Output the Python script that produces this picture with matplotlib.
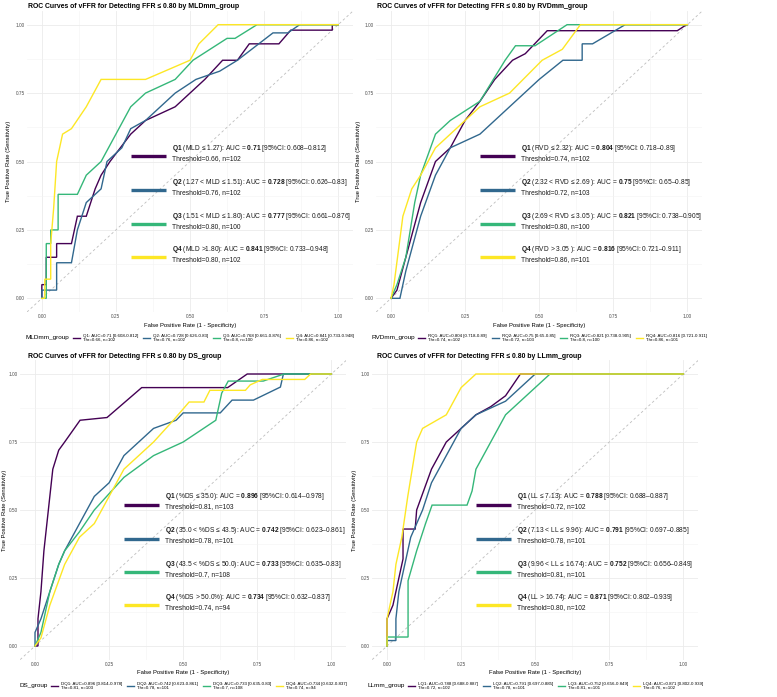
import matplotlib
matplotlib.use("Agg")
import matplotlib.pyplot as plt
from matplotlib.lines import Line2D
import numpy as np

plt.rcParams['font.family'] = ['Liberation Sans', 'DejaVu Sans']
plt.rcParams['mathtext.fontset'] = 'custom'
plt.rcParams['mathtext.rm'] = 'Liberation Sans'
plt.rcParams['mathtext.bf'] = 'Liberation Sans:bold'

COLORS = ['#440154', '#31688E', '#35B779', '#FDE725']

# ---------------- data ----------------
# Panel 1: MLDmm_group
mld_q1_fpr = [0, 0, 0.015, 0.015, 0.05, 0.05, 0.1, 0.12, 0.15, 0.18, 0.2, 0.23, 0.3, 0.35, 0.45, 0.5, 0.55, 0.61, 0.66, 0.70, 0.80, 0.84, 0.98, 0.98, 1]
mld_q1_tpr = [0, 0.05, 0.05, 0.15, 0.15, 0.2, 0.2, 0.3, 0.3, 0.4, 0.45, 0.5, 0.6, 0.65, 0.7, 0.75, 0.8, 0.87, 0.87, 0.93, 0.93, 0.98, 0.98, 1.0, 1]
mld_q2_fpr = [0, 0, 0.05, 0.05, 0.1, 0.12, 0.15, 0.2, 0.22, 0.27, 0.3, 0.35, 0.4, 0.45, 0.52, 0.6, 0.66, 0.78, 0.83, 0.87, 1]
mld_q2_tpr = [0, 0.03, 0.03, 0.13, 0.13, 0.25, 0.35, 0.4, 0.5, 0.55, 0.62, 0.65, 0.7, 0.75, 0.8, 0.83, 0.87, 0.97, 0.97, 1.0, 1]
mld_q3_fpr = [0, 0.015, 0.015, 0.03, 0.03, 0.055, 0.055, 0.12, 0.15, 0.2, 0.25, 0.3, 0.35, 0.45, 0.51, 0.625, 0.652, 0.726, 1]
mld_q3_tpr = [0, 0, 0.2, 0.2, 0.25, 0.25, 0.38, 0.38, 0.45, 0.5, 0.6, 0.7, 0.75, 0.8, 0.87, 0.95, 0.95, 1.0, 1]
mld_q4_fpr = [0, 0.01, 0.01, 0.03, 0.03, 0.04, 0.05, 0.07, 0.1, 0.15, 0.2, 0.35, 0.5, 0.53, 0.595, 1]
mld_q4_tpr = [0, 0, 0.07, 0.07, 0.2, 0.33, 0.5, 0.6, 0.62, 0.7, 0.8, 0.8, 0.87, 0.93, 1.0, 1]

# Panel 2: RVDmm_group
rvd_q1_fpr = [0, 0.02, 0.05, 0.1, 0.15, 0.2, 0.25, 0.3, 0.35, 0.41, 0.453, 0.527, 0.966, 0.997, 1]
rvd_q1_tpr = [0, 0.03, 0.15, 0.35, 0.5, 0.55, 0.65, 0.72, 0.8, 0.87, 0.894, 0.978, 0.978, 1.0, 1]
rvd_q2_fpr = [0, 0.03, 0.05, 0.1, 0.15, 0.2, 0.3, 0.4, 0.5, 0.58, 0.645, 0.645, 0.68, 0.79, 1]
rvd_q2_tpr = [0, 0, 0.1, 0.3, 0.45, 0.55, 0.6, 0.7, 0.8, 0.87, 0.87, 0.93, 0.93, 1.0, 1]
rvd_q3_fpr = [0, 0.02, 0.05, 0.08, 0.1, 0.15, 0.2, 0.3, 0.385, 0.42, 0.486, 0.594, 1]
rvd_q3_tpr = [0, 0.05, 0.15, 0.35, 0.45, 0.6, 0.65, 0.72, 0.87, 0.923, 0.923, 1.0, 1]
rvd_q4_fpr = [0, 0.01, 0.04, 0.07, 0.1, 0.15, 0.2, 0.3, 0.4, 0.51, 0.578, 0.639, 1]
rvd_q4_tpr = [0, 0.05, 0.3, 0.4, 0.45, 0.55, 0.6, 0.7, 0.75, 0.87, 0.91, 1.0, 1]

# Panel 3: DS_group
ds_q1_fpr = [0, 0.01, 0.01, 0.02, 0.03, 0.05, 0.06, 0.08, 0.1, 0.152, 0.243, 0.36, 0.65, 0.716, 1]
ds_q1_tpr = [0, 0, 0.1, 0.2, 0.35, 0.55, 0.65, 0.72, 0.75, 0.83, 0.84, 0.95, 0.95, 1.0, 1]
ds_q2_fpr = [0, 0, 0.02, 0.05, 0.08, 0.1, 0.15, 0.2, 0.25, 0.3, 0.4, 0.476, 0.5, 0.625, 0.665, 0.737, 0.828, 0.838, 1]
ds_q2_tpr = [0, 0.05, 0.1, 0.2, 0.3, 0.35, 0.45, 0.55, 0.6, 0.7, 0.8, 0.83, 0.857, 0.857, 0.904, 0.904, 0.952, 1.0, 1]
ds_q3_fpr = [0, 0.02, 0.05, 0.08, 0.1, 0.15, 0.2, 0.3, 0.4, 0.5, 0.61, 0.63, 0.652, 0.77, 0.84, 1]
ds_q3_tpr = [0, 0.05, 0.2, 0.3, 0.35, 0.42, 0.5, 0.62, 0.7, 0.75, 0.83, 0.93, 0.974, 0.974, 1.0, 1]
ds_q4_fpr = [0, 0.02, 0.05, 0.1, 0.15, 0.2, 0.25, 0.3, 0.4, 0.467, 0.52, 0.57, 0.59, 0.71, 0.726, 0.767, 0.91, 0.93, 1]
ds_q4_tpr = [0, 0.03, 0.15, 0.3, 0.4, 0.45, 0.55, 0.65, 0.75, 0.83, 0.897, 0.897, 0.94, 0.94, 0.96, 0.98, 0.98, 1.0, 1]

# Panel 4: LLmm_group
ll_q1_fpr = [0, 0, 0.02, 0.03, 0.054, 0.054, 0.095, 0.1, 0.15, 0.2, 0.3, 0.35, 0.4, 0.45, 1]
ll_q1_tpr = [0, 0.1, 0.15, 0.2, 0.32, 0.43, 0.43, 0.5, 0.65, 0.75, 0.85, 0.88, 0.92, 1.0, 1]
ll_q2_fpr = [0, 0, 0.03, 0.03, 0.04, 0.06, 0.08, 0.12, 0.15, 0.2, 0.25, 0.3, 0.4, 0.5, 1]
ll_q2_tpr = [0, 0.02, 0.02, 0.1, 0.2, 0.3, 0.4, 0.5, 0.6, 0.7, 0.8, 0.85, 0.9, 1.0, 1]
ll_q3_fpr = [0, 0, 0.071, 0.071, 0.1, 0.13, 0.152, 0.27, 0.287, 0.3, 0.35, 0.4, 0.45, 0.55, 1]
ll_q3_tpr = [0, 0.033, 0.033, 0.24, 0.35, 0.45, 0.518, 0.518, 0.57, 0.65, 0.75, 0.85, 0.9, 1.0, 1]
ll_q4_fpr = [0, 0, 0.02, 0.03, 0.05, 0.07, 0.1, 0.12, 0.2, 0.25, 0.3, 1]
ll_q4_tpr = [0, 0.1, 0.2, 0.3, 0.4, 0.55, 0.75, 0.8, 0.85, 0.95, 1.0, 1]

titles = [
    "ROC Curves of vFFR for Detecting FFR \u2264 0.80 by MLDmm_group",
    "ROC Curves of vFFR for Detecting FFR \u2264 0.80 by RVDmm_group",
    "ROC Curves of vFFR for Detecting FFR \u2264 0.80 by DS_group",
    "ROC Curves of vFFR for Detecting FFR \u2264 0.80 by LLmm_group",
]
legend_titles = ["MLDmm_group", "RVDmm_group", "DS_group", "LLmm_group"]

mld_legend = ["Q1: AUC=0.71 [0.608-0.812]\nThr=0.66, n=102",
              "Q2: AUC=0.728 [0.626-0.83]\nThr=0.76, n=102",
              "Q3: AUC=0.768 [0.661-0.876]\nThr=0.8, n=100",
              "Q4: AUC=0.841 [0.733-0.948]\nThr=0.86, n=102"]
rvd_legend = ["RQ1: AUC=0.804 [0.718-0.89]\nThr=0.74, n=102",
              "RQ2: AUC=0.75 [0.65-0.85]\nThr=0.72, n=103",
              "RQ3: AUC=0.821 [0.738-0.905]\nThr=0.8, n=100",
              "RQ4: AUC=0.816 [0.721-0.911]\nThr=0.86, n=101"]
ds_legend = ["DQ1: AUC=0.896 [0.814-0.978]\nThr=0.81, n=103",
             "DQ2: AUC=0.742 [0.623-0.861]\nThr=0.78, n=101",
             "DQ3: AUC=0.733 [0.635-0.83]\nThr=0.7, n=108",
             "DQ4: AUC=0.734 [0.632-0.837]\nThr=0.74, n=94"]
ll_legend = ["LQ1: AUC=0.788 [0.688-0.887]\nThr=0.72, n=102",
             "LQ2: AUC=0.791 [0.697-0.885]\nThr=0.78, n=101",
             "LQ3: AUC=0.752 [0.656-0.849]\nThr=0.81, n=101",
             "LQ4: AUC=0.871 [0.802-0.939]\nThr=0.76, n=102"]

mld_annot = [("Q1", "(MLD \u2264 1.27): AUC = ", "0.71", " [95%CI: 0.608\u20130.812]", "Threshold=0.66, n=102"),
             ("Q2", "(1.27 < MLD \u2264 1.51): AUC = ", "0.728", " [95%CI: 0.626\u20130.83]", "Threshold=0.76, n=102"),
             ("Q3", "(1.51 < MLD \u2264 1.80): AUC = ", "0.777", " [95%CI: 0.661\u20130.876]", "Threshold=0.80, n=100"),
             ("Q4", "(MLD >1.80): AUC = ", "0.841", " [95%CI: 0.733\u20130.948]", "Threshold=0.80, n=102")]
rvd_annot = [("Q1", "(RVD \u2264 2.32): AUC = ", "0.804", " [95%CI: 0.718\u20130.89]", "Threshold=0.74, n=102"),
             ("Q2", "(2.32 < RVD \u2264 2.69 ): AUC = ", "0.75", " [95%CI: 0.65\u20130.85]", "Threshold=0.72, n=103"),
             ("Q3", "(2.69 < RVD \u2264 3.05 ): AUC = ", "0.821", " [95%CI: 0.738\u20130.905]", "Threshold=0.80, n=100"),
             ("Q4", "(RVD > 3.05 ): AUC = ", "0.816", " [95%CI: 0.721\u20130.911]", "Threshold=0.86, n=101")]
ds_annot = [("Q1", "(%DS \u2264 35.0): AUC = ", "0.896", " [95%CI: 0.614\u20130.978]", "Threshold=0.81, n=103"),
            ("Q2", "(35.0 < %DS \u2264 43.5): AUC = ", "0.742", " [95%CI: 0.623\u20130.861]", "Threshold=0.78, n=101"),
            ("Q3", "(43.5 < %DS \u2264 50.0): AUC = ", "0.733", " [95%CI: 0.635\u20130.83]", "Threshold=0.7, n=108"),
            ("Q4", "(%DS > 50.0%): AUC = ", "0.734", " [95%CI: 0.632\u20130.837]", "Threshold=0.74, n=94")]
ll_annot = [("Q1", "(LL \u2264 7.13): AUC = ", "0.788", " [95%CI: 0.688\u20130.887]", "Threshold=0.72, n=102"),
            ("Q2", "(7.13 < LL \u2264 9.96): AUC = ", "0.791", " [95%CI: 0.697\u20130.885]", "Threshold=0.78, n=101"),
            ("Q3", "(9.96 < LL \u2264 16.74): AUC = ", "0.752", " [95%CI: 0.656\u20130.849]", "Threshold=0.81, n=101"),
            ("Q4", "(LL > 16.74): AUC = ", "0.871", " [95%CI: 0.802\u20130.939]", "Threshold=0.80, n=102")]

panels = [
    dict(curves=[(mld_q1_fpr, mld_q1_tpr), (mld_q2_fpr, mld_q2_tpr), (mld_q3_fpr, mld_q3_tpr), (mld_q4_fpr, mld_q4_tpr)],
         legend=mld_legend, annot=mld_annot),
    dict(curves=[(rvd_q1_fpr, rvd_q1_tpr), (rvd_q2_fpr, rvd_q2_tpr), (rvd_q3_fpr, rvd_q3_tpr), (rvd_q4_fpr, rvd_q4_tpr)],
         legend=rvd_legend, annot=rvd_annot),
    dict(curves=[(ds_q1_fpr, ds_q1_tpr), (ds_q2_fpr, ds_q2_tpr), (ds_q3_fpr, ds_q3_tpr), (ds_q4_fpr, ds_q4_tpr)],
         legend=ds_legend, annot=ds_annot),
    dict(curves=[(ll_q1_fpr, ll_q1_tpr), (ll_q2_fpr, ll_q2_tpr), (ll_q3_fpr, ll_q3_tpr), (ll_q4_fpr, ll_q4_tpr)],
         legend=ll_legend, annot=ll_annot),
]

annot_y = [0.52, 0.395, 0.272, 0.15]

# ---------------- layout (pixels) ----------------
W, H = 777, 697
fig = plt.figure(figsize=(W / 100, H / 100), dpi=100)
fig.patch.set_facecolor('white')

# panel boxes: left, top, width, height in px
boxes = [(27.0, 11.0, 326.0, 301.0),
         (376.2, 11.0, 326.0, 301.0),
         (20.2, 360.4, 326.0, 299.2),
         (372.2, 360.4, 326.0, 299.2)]
title_pos = [(28, 7), (377, 7), (28, 356), (377, 356)]
legend_y = [338, 338, 686, 686]
ylabel_pad = [3.0, 3.0, 1.5, 3.0]

renderer = fig.canvas.get_renderer()

for i, (panel, box) in enumerate(zip(panels, boxes)):
    l, t, w, h = box
    ax = fig.add_axes([l / W, 1 - (t + h) / H, w / W, h / H])
    ax.set_xlim(-0.05, 1.05)
    ax.set_ylim(-0.05, 1.05)
    for s in ax.spines.values():
        s.set_visible(False)
    ax.set_xticks([0, 0.25, 0.5, 0.75, 1.0])
    ax.set_yticks([0, 0.25, 0.5, 0.75, 1.0])
    ax.set_xticklabels(["0.00", "0.25", "0.50", "0.75", "1.00"])
    ax.set_yticklabels(["0.00", "0.25", "0.50", "0.75", "1.00"])
    ax.set_xticks([0.125, 0.375, 0.625, 0.875], minor=True)
    ax.set_yticks([0.125, 0.375, 0.625, 0.875], minor=True)
    ax.tick_params(which='both', length=0, labelsize=3.4, labelcolor='#4D4D4D', pad=1.5)
    ax.grid(which='major', color='#EBEBEB', lw=0.6)
    ax.grid(which='minor', color='#F3F3F3', lw=0.4)
    ax.set_axisbelow(True)
    ax.set_xlabel("False Positive Rate (1 - Specificity)", fontsize=4.2, labelpad=2.5)
    ax.set_ylabel("True Positive Rate (Sensitivity)", fontsize=4.2, labelpad=ylabel_pad[i])

    ax.axline((0, 0), (1, 1), color='#BDBDBD', lw=0.6, ls=(0, (3, 3)))

    for (fpr, tpr), c in zip(panel['curves'], COLORS):
        ax.plot(fpr, tpr, color=c, lw=1.0, solid_joinstyle='miter')

    for (tag, mid, auc, ci, thr), c, yy in zip(panel['annot'], COLORS, annot_y):
        ax.plot([0.30, 0.42], [yy, yy], color=c, lw=2.4, solid_capstyle='butt')
        s = r"$\mathbf{" + tag + r"}\ $" + mid + r"$\mathbf{" + auc + "}$" + ci
        ax.text(0.44, yy + 0.008, s, fontsize=4.8, va='bottom', ha='left', color='#1A1A1A')
        ax.text(0.44, yy + 0.004, thr, fontsize=4.8, va='top', ha='left', color='#1A1A1A')

    tx, ty = title_pos[i]
    fig.text(tx / W, 1 - ty / H, titles[i], fontsize=4.95, fontweight='bold', ha='left', va='center')

    # manual legend centered under panel
    cx = l + w / 2
    ly = legend_y[i]
    title_t = fig.text(0, 1 - ly / H, legend_titles[i], fontsize=4.6, ha='left', va='center')
    items = [fig.text(0, 1 - ly / H, lab, fontsize=3.2, ha='left', va='center', linespacing=1.0)
             for lab in panel['legend']]
    wt = title_t.get_window_extent(renderer).width
    wi = [it.get_window_extent(renderer).width for it in items]
    key_len, gap_title, gap_key, gap_item = 7.0, 3.0, 3.0, 5.0
    total = wt + gap_title + sum(key_len + gap_key + x for x in wi) + gap_item * 3
    x0 = cx - total / 2
    title_t.set_x(x0 / W)
    x = x0 + wt + gap_title
    for it, wdt, c in zip(items, wi, COLORS):
        fig.add_artist(Line2D([x / W, (x + key_len) / W], [1 - ly / H, 1 - ly / H], color=c, lw=1.0,
                              transform=fig.transFigure))
        x += key_len + gap_key
        it.set_x(x / W)
        x += wdt + gap_item

fig.savefig("out.png", dpi=100, facecolor='white')
